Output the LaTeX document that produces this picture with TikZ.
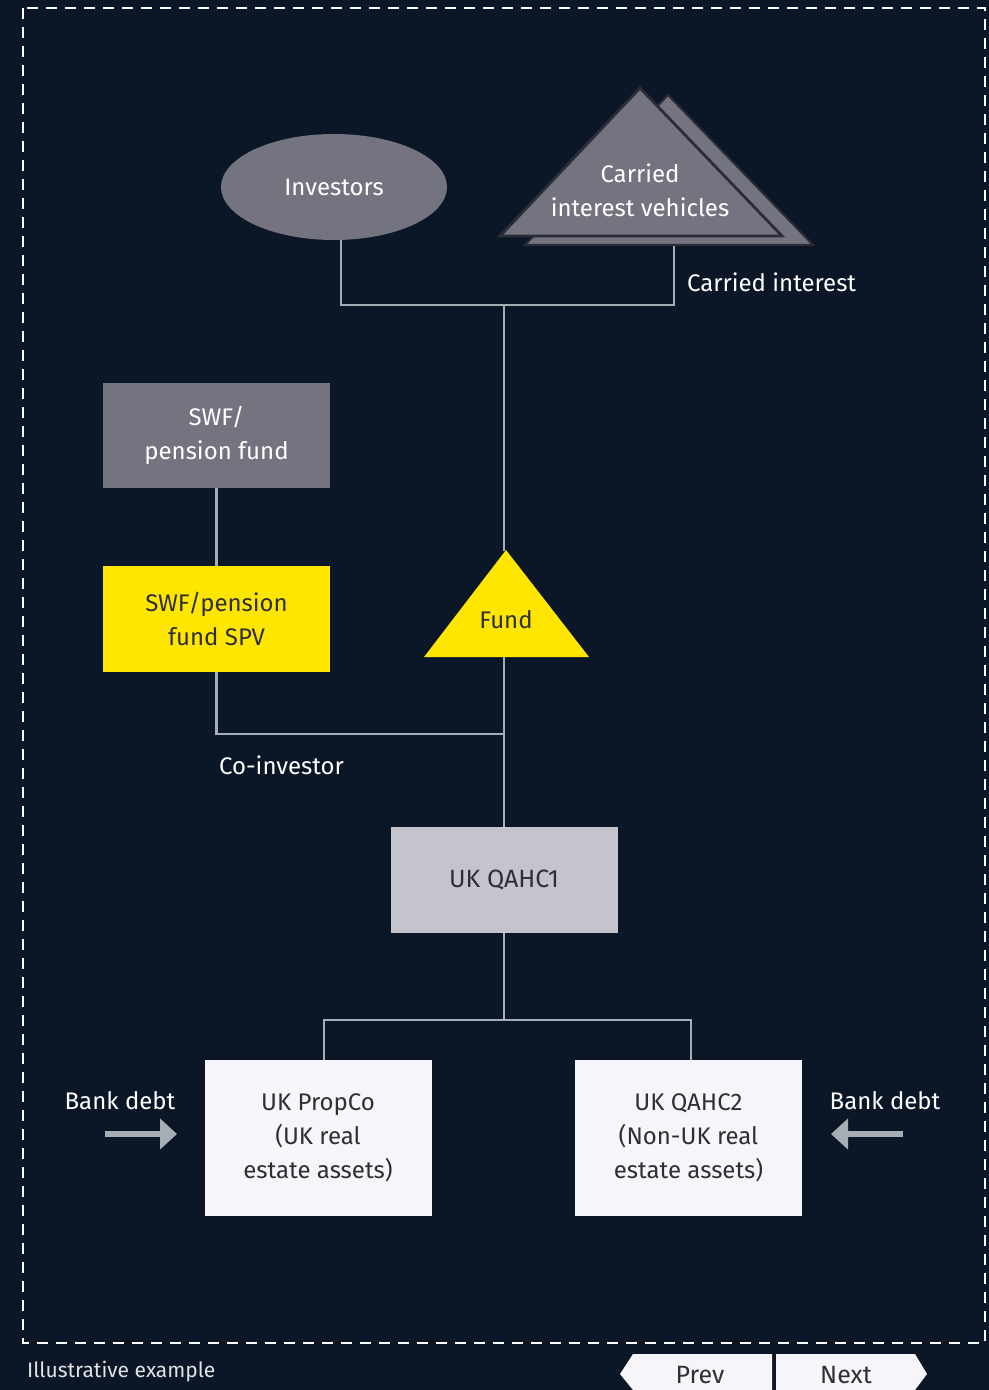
\documentclass[tikz,border=0pt]{standalone}
\usepackage{fontspec}
\setmainfont{Fira Sans}
\usetikzlibrary{shapes.geometric, arrows.meta, positioning}
\definecolor{navy}{HTML}{0B1627}
\definecolor{slate}{HTML}{747480}
\definecolor{eyyellow}{HTML}{FFE600}
\definecolor{mist}{HTML}{C4C4CD}
\definecolor{paper}{HTML}{F6F6FA}
\definecolor{wire}{HTML}{A7ADB4}
\definecolor{ink}{HTML}{2E2E38}
\definecolor{edge}{HTML}{2C2C38}

\begin{document}
\begin{tikzpicture}[x=0.5pt, y=-0.5pt,
    every node/.style={font=\fontsize{12}{17}\selectfont, align=center},
    darkbox/.style={fill=slate, text=white, minimum width=113.5pt, minimum height=52.5pt, inner sep=0pt},
    yellowbox/.style={fill=eyyellow, text=ink, minimum width=113.5pt, minimum height=53pt, inner sep=0pt},
    lightbox/.style={fill=paper, text=ink, minimum width=113.5pt, minimum height=78pt, inner sep=0pt},
    wireline/.style={draw=wire, line width=1.1pt},
    debtarrow/.style={draw=wire, line width=2.6pt, -{Triangle[length=8.5pt, width=15pt]}},
    label/.style={text=white}]
    % background and frame
    \useasboundingbox (0,0) rectangle (989,1390);
    \fill[navy] (0,0) rectangle (989,1390);
    \draw[white, line width=1.3pt, dash pattern=on 5.5pt off 4pt] (23,8) rectangle (985,1343);

    % top row
    \node[ellipse, fill=slate, text=white, minimum width=113pt, minimum height=53pt, inner sep=0pt] (inv) at (334,187) {Investors};
    \filldraw[fill=slate, draw=edge, line width=1pt] (668,95) -- (813,245) -- (525,245) -- cycle;
    \filldraw[fill=slate, draw=edge, line width=1.4pt] (640,88) -- (782,236) -- (500,236) -- cycle;
    \node[text=white] (civ) at (640,190) {Carried\\interest vehicles};
    \coordinate (civbase) at (674,246);
    \coordinate (topjoin) at (504,305);
    \node[label, anchor=west] (carried) at (680,282) {Carried interest};

    % fund
    \fill[eyyellow] (506,550) -- (589,657) -- (424,657) -- cycle;
    \node[text=ink] (fund) at (506,620) {Fund};
    \coordinate (fundtop) at (504,551);
    \coordinate (fundbase) at (504,657);

    % co-investor
    \node[darkbox] (swf) at (216.5,435.5) {SWF/\\pension fund};
    \node[yellowbox] (spv) at (216.5,619) {SWF/pension\\fund SPV};
    \coordinate (midjoin) at (504,734);
    \node[label, anchor=west] (coinv) at (212,765) {Co-investor};

    % holding companies
    \node[fill=mist, text=ink, minimum width=113.5pt, minimum height=53pt, inner sep=0pt, font=\fontsize{12.5}{17}\selectfont] (qahc1) at (504,880) {UK QAHC1};
    \coordinate (lowjoin) at (504,1020);
    \node[lightbox] (propco) at (318,1138) {UK PropCo\\(UK real\\estate assets)};
    \node[lightbox] (qahc2) at (688.5,1138) {UK QAHC2\\(Non-UK real\\estate assets)};

    % connectors
    \draw[wireline] ([xshift=3.5pt]inv.south) |- (topjoin) -| (civbase);
    \draw[wireline] (topjoin) -- (fundtop);
    \draw[wireline] (swf) -- (spv);
    \draw[wireline] (spv.south) |- (midjoin);
    \draw[wireline] (fundbase) -- (qahc1.north);
    \draw[wireline] (qahc1.south) -- (lowjoin);
    \draw[wireline] ([xshift=3pt]propco.north) |- (lowjoin) -| ([xshift=1.25pt]qahc2.north);

    % bank debt
    \node[label] (debtl) at (120,1101) {Bank debt};
    \node[label] (debtr) at (885,1101) {Bank debt};
    \coordinate (ldebtfrom) at (105,1134);
    \coordinate (ldebtto) at (177,1134);
    \coordinate (rdebtfrom) at (903,1134);
    \coordinate (rdebtto) at (831,1134);
    \draw[debtarrow] (ldebtfrom) -- (ldebtto);
    \draw[debtarrow] (rdebtfrom) -- (rdebtto);

    % footer
    \node[anchor=west, text=white!88!navy, font=\fontsize{10.5}{13}\selectfont] (note) at (20,1372) {Illustrative example};
    \fill[paper] (633,1354) -- (772,1354) -- (772,1390) -- (633,1390) -- (620,1374) -- cycle;
    \fill[paper] (776,1354) -- (915,1354) -- (927,1374) -- (915,1390) -- (776,1390) -- cycle;
    \node[text=ink, font=\fontsize{12.5}{14}\selectfont] (prev) at (700,1375) {Prev};
    \node[text=ink, font=\fontsize{12.5}{14}\selectfont] (next) at (846,1375) {Next};
\end{tikzpicture}
\end{document}
